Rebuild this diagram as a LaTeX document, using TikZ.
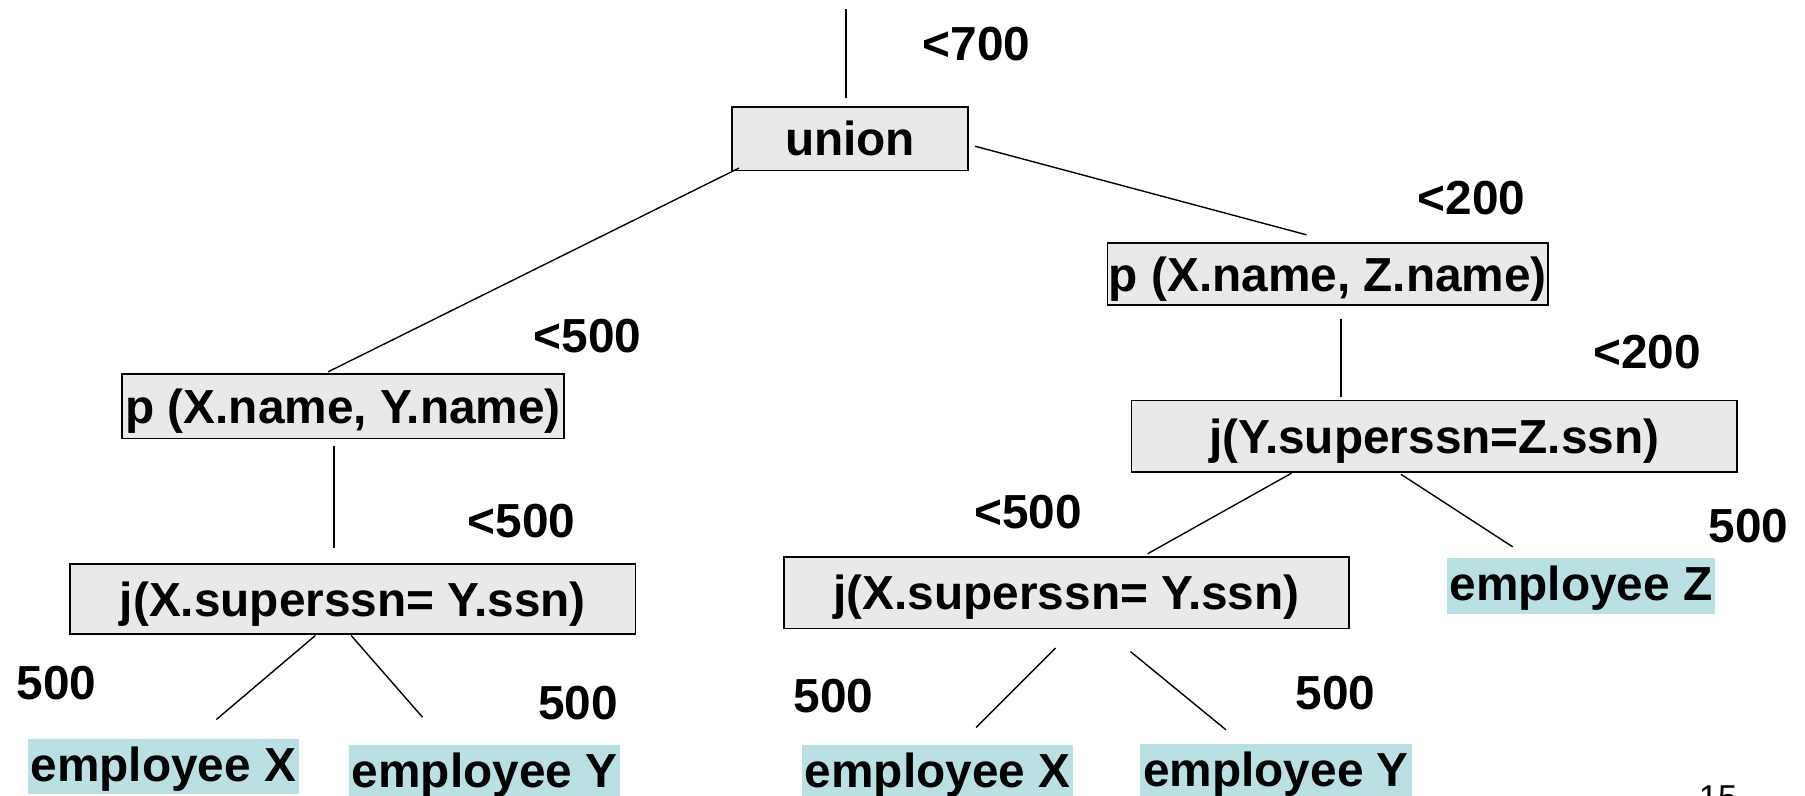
\documentclass[tikz,border=0pt]{standalone}
\usepackage{fontspec}
\setmainfont{Liberation Sans}
\definecolor{opfill}{RGB}{233,233,233}
\definecolor{relfill}{RGB}{187,224,227}
\begin{document}
\begin{tikzpicture}[x=1pt,y=-1pt,
  every node/.style={font=\fontsize{41.5}{48}\selectfont\bfseries, inner sep=0pt},
  opbox/.style={draw=black, line width=1.5pt, fill=opfill, text height=29.7pt, text depth=0pt},
  relbox/.style={fill=relfill, inner xsep=2.5pt, text height=37pt, text depth=11pt, anchor=base},
  cost/.style={anchor=base},
  edge/.style={line width=1.2pt}]
\useasboundingbox (0,0) rectangle (1568,691);
\clip (0,0) rectangle (1568,691);

% operator boxes
\node[opbox, minimum width=205pt, minimum height=55pt] (un) at (738.5,120.5) {union};
\node[opbox, minimum width=384pt, minimum height=56pt] (pxy) at (298,353) {p (X.name, Y.name)};
\node[opbox, minimum width=383pt, minimum height=54pt] (pxz) at (1153.5,238) {p (X.name, Z.name)};
\node[opbox, minimum width=491pt, minimum height=61pt] (jl) at (306.5,520.5) {j(X.superssn= Y.ssn)};
\node[opbox, minimum width=526pt, minimum height=62pt] (jyz) at (1246,379) {j(Y.superssn=Z.ssn)};
\node[opbox, minimum width=491pt, minimum height=62pt] (jr) at (926.5,515) {j(X.superssn= Y.ssn)};

% base relations
\node[relbox] (ex1) at (142,679) {employee X};
\node[relbox] (ey1) at (421,684) {employee Y};
\node[relbox] (ex2) at (814.5,684) {employee X};
\node[relbox] (ey2) at (1108.5,683) {employee Y};
\node[relbox] (ez) at (1373.5,522) {employee Z};

% size estimates
\node[cost] (c1) at (848.5,52.5) {<700};
\node[cost] (c2) at (1278.5,186) {<200};
\node[cost] (c3) at (510.5,306) {<500};
\node[cost] (c4) at (1431,320) {<200};
\node[cost] (c5) at (453,467) {<500};
\node[cost] (c6) at (893,459) {<500};
\node[cost] (c7) at (1519,471) {500};
\node[cost] (c8) at (49,608) {500};
\node[cost] (c9) at (502,625) {500};
\node[cost] (c10) at (724,619) {500};
\node[cost] (c11) at (1160,616) {500};

% page number
\node[anchor=base, font=\fontsize{30}{36}\selectfont] (pg) at (1492.5,703.5) {15};

% connector end points
\coordinate (root) at (735,8);
\coordinate (un-in) at (735,85);
\coordinate (un-l) at (642,146);
\coordinate (un-r) at (847,127);
\coordinate (pxy-in) at (285,323);
\coordinate (pxy-out) at (290,387);
\coordinate (pxz-in) at (1135,204);
\coordinate (pxz-out) at (1165,277);
\coordinate (jyz-in) at (1165,345);
\coordinate (jyz-l) at (1122,411);
\coordinate (jyz-r) at (1217,412);
\coordinate (jr-in) at (997,481);
\coordinate (ez-in) at (1314,475);
\coordinate (jl-in) at (290,476);
\coordinate (jl-l) at (274,552);
\coordinate (jl-r) at (305,552);
\coordinate (ex1-in) at (188,625);
\coordinate (ey1-in) at (367,623);
\coordinate (jr-l) at (917,563);
\coordinate (jr-r) at (982,566);
\coordinate (ex2-in) at (848,632);
\coordinate (ey2-in) at (1065,634);

% tree edges
\draw[edge] (root) -- (un-in);
\draw[edge] (un-l) -- (pxy-in);
\draw[edge] (un-r) -- (pxz-in);
\draw[edge] (pxz-out) -- (jyz-in);
\draw[edge] (jyz-l) -- (jr-in);
\draw[edge] (jyz-r) -- (ez-in);
\draw[edge] (pxy-out) -- (jl-in);
\draw[edge] (jl-l) -- (ex1-in);
\draw[edge] (jl-r) -- (ey1-in);
\draw[edge] (jr-l) -- (ex2-in);
\draw[edge] (jr-r) -- (ey2-in);
\end{tikzpicture}
\end{document}
